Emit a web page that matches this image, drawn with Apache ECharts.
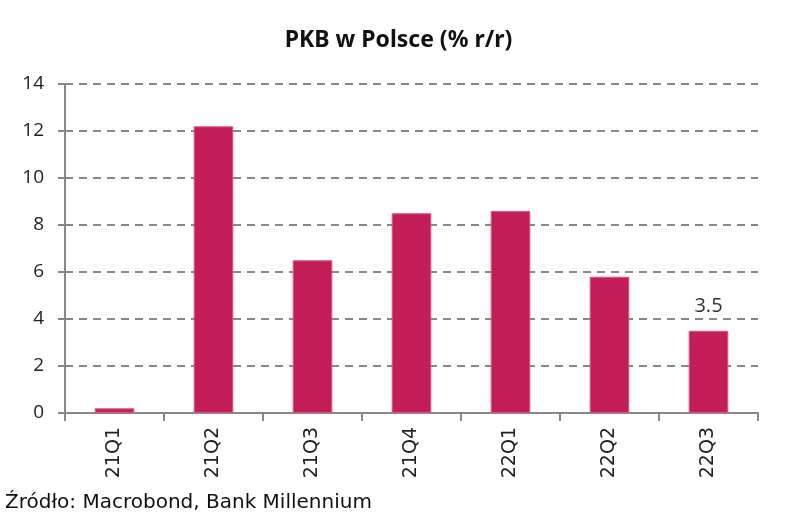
<!DOCTYPE html>
<html><head><meta charset="utf-8">
<script src="https://cdn.jsdelivr.net/npm/echarts@6/dist/echarts.min.js"></script>
<style>html,body{margin:0;padding:0;background:#fff}#c{width:797px;height:520px}</style>
</head><body><div id="c"></div>
<script>
var categories = ['21Q1','21Q2','21Q3','21Q4','22Q1','22Q2','22Q3'];
var values = [0.2, 12.2, 6.5, 8.5, 8.6, 5.8, 3.5];
var yTicks = [0,2,4,6,8,10,12,14];
var chart = echarts.init(document.getElementById('c'));
chart.setOption({
  animation:false,
  title:{text:'PKB w Polsce (% r/r)',left:'center',top:24,textStyle:{fontFamily:'Noto Sans',fontWeight:'bold',fontSize:23,color:'#111'}},
  grid:{left:65,right:39,top:84,bottom:107},
  xAxis:{type:'category',data:categories,
    axisLine:{lineStyle:{color:'#888',width:2}},
    axisTick:{show:true,length:8,lineStyle:{color:'#888',width:2},alignWithLabel:false},
    axisLabel:{rotate:90,fontFamily:'DejaVu Sans',fontSize:19,color:'#222',margin:14}},
  yAxis:{type:'value',min:yTicks[0],max:yTicks[yTicks.length-1],interval:2,
    axisLine:{show:true,lineStyle:{color:'#888',width:2}},
    axisTick:{show:true,length:7,lineStyle:{color:'#888',width:2}},
    axisLabel:{fontFamily:'Open Sans',fontSize:19,color:'#222',margin:21},
    splitLine:{lineStyle:{color:'#888',width:2,type:[8,6]}}},
  series:[{type:'bar',data:values.map(function(v,i){
      return {value:v,label:{show:i===values.length-1}};}),
    barWidth:'40%',
    itemStyle:{color:'#C41E5A',borderColor:'#D9577F',borderWidth:1},
    label:{position:'top',distance:14,fontFamily:'Open Sans',fontSize:20,color:'#333'}}],
  graphic:[{type:'text',left:5,top:493,style:{text:'Źródło: Macrobond, Bank Millennium',fontFamily:'DejaVu Sans',fontSize:20,fill:'#111'}}]
});
</script></body></html>
